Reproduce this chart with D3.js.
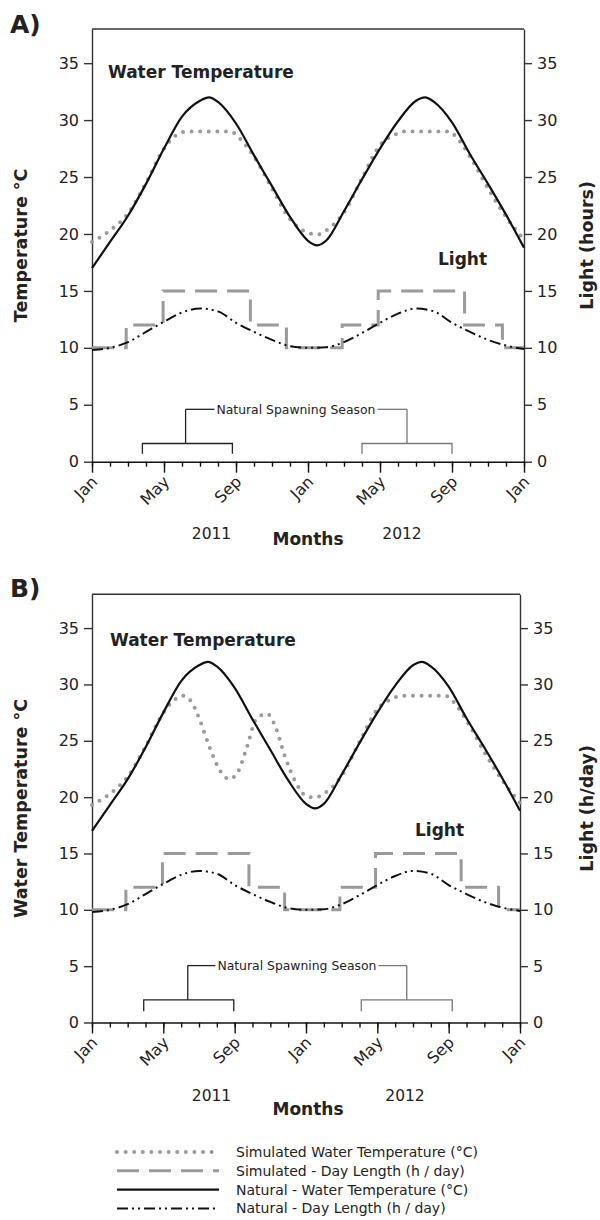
<!DOCTYPE html>
<html>
<head>
	<meta charset="utf-8">
	<title>Water temperature and light</title>
	<script src="https://d3js.org/d3.v7.min.js"></script>
	<style>
		body { margin: 0; background: #fff; }
		svg { font-family: "DejaVu Sans", sans-serif; }
		.axis text { font-family: "DejaVu Sans", sans-serif; font-size: 16px; fill: #222; }
		.axis path, .axis line { stroke: #333; stroke-width: 1.4; }
		.axis--x path, .axis--x line { stroke: #111; }
		.axis--x .month { font-size: 16px; }
		.title { font-weight: bold; fill: #222; }
	</style>
</head>
<body>
<svg width="600" height="1220"></svg>
<script>

// month index: 0 = Jan 2011, 12 = Jan 2012, 24 = Jan 2013
var yTicks = [0, 5, 10, 15, 20, 25, 30, 35];
var majorMonths = [0, 4, 8, 12, 16, 20, 24];
var monthLabels = ["Jan", "May", "Sep", "Jan", "May", "Sep", "Jan"];
var years = ["2011", "2012"];

var natTempMonths = [0, 1, 2, 3, 4, 5, 6, 6.5, 7, 8, 9, 10, 11, 12, 12.5, 13, 14, 15, 16, 17, 18, 18.5, 19, 20, 21, 22, 23, 24];
var natTemp = [17.0, 19.3, 21.6, 24.4, 27.5, 30.3, 31.7, 32.0, 31.6, 29.7, 26.9, 24.2, 21.5, 19.4, 19.0, 19.4, 22.0, 24.8, 27.5, 29.9, 31.7, 32.0, 31.6, 29.8, 27.0, 24.4, 21.7, 18.8];

var simTempMonthsA = [0, 1, 2, 3, 4, 4.7, 5.3, 7.7, 8.2, 9, 10, 11, 12, 12.5, 13, 14, 15, 16, 16.8, 17.3, 19.8, 20.3, 21, 22, 23, 24];
var simTempA = [19.3, 20.3, 21.8, 24.5, 27.5, 28.7, 29.0, 29.0, 28.4, 26.8, 24.0, 21.3, 20.1, 19.95, 20.3, 21.9, 24.9, 27.8, 28.7, 29.0, 29.0, 28.4, 26.8, 24.0, 21.5, 19.5];

var simTempMonthsB = [0, 1, 2, 3, 4, 4.6, 5.1, 5.6, 6.1, 6.6, 7.2, 7.7, 8.2, 8.7, 9.2, 9.8, 10.3, 10.8, 11.4, 12, 12.5, 13, 14, 15, 16, 16.8, 17.3, 19.8, 20.3, 21, 22, 23, 24];
var simTempB = [19.3, 20.3, 21.8, 24.5, 27.5, 28.6, 29.0, 28.4, 26.6, 24.4, 22.3, 21.6, 22.3, 24.5, 26.9, 27.4, 26.2, 23.7, 21.4, 20.1, 19.95, 20.3, 21.9, 24.9, 27.8, 28.7, 29.0, 29.0, 28.4, 26.8, 24.0, 21.5, 19.5];

var simLightMonths = [0, 1.9, 3.95, 8.8, 10.8, 13.9, 15.9, 20.7, 22.8, 24];
var simLight = [10, 12, 15, 12, 10, 12, 15, 12, 10, 10];

var natLightMonths = d3.range(0, 25);
var natLight = [9.8, 10.0, 10.5, 11.4, 12.3, 13.1, 13.45, 13.2, 12.2, 11.4, 10.7, 10.15, 10.0, 10.05, 10.5, 11.3, 12.2, 13.0, 13.45, 13.2, 12.2, 11.4, 10.7, 10.2, 9.9];

// spawning season brackets: [start, end, stem] months
var spawnA = { left: [2.8, 7.8, 5.2], right: [15.0, 20.0, 17.5], tip: 0.7, bar: 1.6, link: 4.6, textAt: 11.33 };
var spawnB = { left: [2.9, 7.95, 5.37], right: [15.1, 20.2, 17.65], tip: 1.0, bar: 2.0, link: 5.05, textAt: 11.49 };

var legendItems = [
	"Simulated Water Temperature (°C)",
	"Simulated - Day Length (h / day)",
	"Natural - Water Temperature (°C)",
	"Natural - Day Length (h / day)"
];

var styles = {
	simTemp: { stroke: "#9a9a9a", width: 4, dash: "0,8.6", cap: "round" },
	simLight: { stroke: "#9a9a9a", width: 3, dash: "22,10", cap: "butt" },
	natTemp: { stroke: "#111", width: 2.2, dash: null, cap: "butt" },
	natLight: { stroke: "#111", width: 2, dash: "11,4,2,4,2,4", cap: "butt" }
};

var panels = [
	{ tag: "A)", tagY: 33, top: 29, bottom: 461.7, left: 92, right: 524,
	  yTitle: "Temperature °C", y2Title: "Light (hours)",
	  simMonths: simTempMonthsA, sim: simTempA, spawn: spawnA,
	  wt: [108, 78], light: [438, 265], yearY: 539, yearX: [211.5, 402], monthsY: 545 },
	{ tag: "B)", tagY: 597, top: 594.3, bottom: 1022.5, left: 92, right: 520,
	  yTitle: "Water Temperature °C", y2Title: "Light (h/day)",
	  simMonths: simTempMonthsB, sim: simTempB, spawn: spawnB,
	  wt: [110, 646], light: [415, 836], yearY: 1101, yearX: [211.5, 405], monthsY: 1115 }
];

var svg = d3.select("svg");

function styled(sel, s) {
	sel.attr("fill", "none")
		.attr("stroke", s.stroke)
		.attr("stroke-width", s.width)
		.attr("stroke-linecap", s.cap)
		.attr("stroke-dasharray", s.dash);
	return sel;
}

function zip(xs, ys) {
	return xs.map(function(m, i) { return [m, ys[i]]; });
}

panels.forEach(function(p) {
	var x = d3.scaleLinear().domain([0, 24]).range([p.left, p.right]);
	var y = d3.scaleLinear().domain([0, 38]).range([p.bottom, p.top]);
	var g = svg.append("g");

	g.append("text").attr("class", "title")
		.attr("x", 10).attr("y", p.tagY)
		.style("font-size", "25px").text(p.tag);

	// frame top
	g.append("line")
		.attr("x1", p.left).attr("x2", p.right)
		.attr("y1", p.top).attr("y2", p.top)
		.attr("stroke", "#333").attr("stroke-width", 1.4);

	g.append("g").attr("class", "axis")
		.attr("transform", "translate(" + p.left + ",0)")
		.call(d3.axisLeft(y).tickValues(yTicks).tickSize(8).tickSizeOuter(0).tickPadding(5));

	g.append("g").attr("class", "axis")
		.attr("transform", "translate(" + p.right + ",0)")
		.call(d3.axisRight(y).tickValues(yTicks).tickSize(8).tickSizeOuter(0).tickPadding(5));

	// minor month ticks
	g.append("g").attr("class", "axis axis--x")
		.attr("transform", "translate(0," + p.bottom + ")")
		.call(d3.axisBottom(x).tickValues(d3.range(0, 25)).tickSize(5).tickSizeOuter(0).tickFormat(""));

	var xa = g.append("g").attr("class", "axis axis--x")
		.attr("transform", "translate(0," + p.bottom + ")")
		.call(d3.axisBottom(x).tickValues(majorMonths).tickSize(11).tickSizeOuter(0)
			.tickFormat(function(d, i) { return monthLabels[i]; }));
	xa.select(".domain").remove();
	xa.selectAll("text")
		.attr("class", "month")
		.attr("x", 0).attr("y", 0).attr("dy", 0)
		.attr("text-anchor", "end")
		.attr("transform", "translate(6,21) rotate(-45)");

	// axis titles
	g.append("text").attr("class", "title")
		.attr("transform", "translate(27," + (p.top + p.bottom) / 2 + ") rotate(-90)")
		.attr("text-anchor", "middle").style("font-size", "17.5px").text(p.yTitle);
	g.append("text").attr("class", "title")
		.attr("transform", "translate(593," + (p.top + p.bottom) / 2 + ") rotate(-90)")
		.attr("text-anchor", "middle").style("font-size", "17.5px").text(p.y2Title);

	g.append("text").attr("class", "title").attr("x", p.wt[0]).attr("y", p.wt[1])
		.style("font-size", "17px").text("Water Temperature");
	g.append("text").attr("class", "title").attr("x", p.light[0]).attr("y", p.light[1])
		.style("font-size", "17px").text("Light");

	years.forEach(function(yr, i) {
		g.append("text").attr("x", p.yearX[i]).attr("y", p.yearY)
			.attr("text-anchor", "middle").style("font-size", "15.5px").attr("fill", "#222").text(yr);
	});
	g.append("text").attr("class", "title").attr("x", 308).attr("y", p.monthsY)
		.attr("text-anchor", "middle").style("font-size", "17px").text("Months");

	// spawning season annotation
	var s = p.spawn;
	var ann = g.append("g").attr("fill", "none").attr("stroke-width", 1.3);
	[["left", "#222"], ["right", "#777"]].forEach(function(side) {
		var b = s[side[0]];
		ann.append("path").attr("stroke", side[1])
			.attr("d", d3.line()([[x(b[0]), y(s.tip)], [x(b[0]), y(s.bar)], [x(b[1]), y(s.bar)], [x(b[1]), y(s.tip)]]));
		ann.append("line").attr("stroke", side[1])
			.attr("x1", x(b[2])).attr("x2", x(b[2]))
			.attr("y1", y(s.bar)).attr("y2", y(s.link));
	});
	var label = g.append("text")
		.attr("x", x(s.textAt)).attr("y", y(s.link)).attr("dy", "0.35em")
		.attr("text-anchor", "middle").style("font-size", "12.4px").attr("fill", "#222")
		.text("Natural Spawning Season");
	var bb = label.node().getBBox();
	ann.append("line").attr("stroke", "#222")
		.attr("x1", x(s.left[2])).attr("x2", bb.x - 2)
		.attr("y1", y(s.link)).attr("y2", y(s.link));
	ann.append("line").attr("stroke", "#777")
		.attr("x1", bb.x + bb.width + 2).attr("x2", x(s.right[2]))
		.attr("y1", y(s.link)).attr("y2", y(s.link));

	// series
	var curve = d3.line().x(function(d) { return x(d[0]); }).y(function(d) { return y(d[1]); });
	styled(g.append("path"), styles.simLight)
		.attr("d", curve.curve(d3.curveStepAfter)(zip(simLightMonths, simLight)));
	styled(g.append("path"), styles.natLight)
		.attr("d", curve.curve(d3.curveMonotoneX)(zip(natLightMonths, natLight)));
	styled(g.append("path"), styles.simTemp)
		.attr("d", curve.curve(d3.curveMonotoneX)(zip(p.simMonths, p.sim)));
	styled(g.append("path"), styles.natTemp)
		.attr("d", curve.curve(d3.curveMonotoneX)(zip(natTempMonths, natTemp)));
});

// legend
var keys = ["simTemp", "simLight", "natTemp", "natLight"];
var legend = svg.append("g").attr("transform", "translate(117,1152)");
keys.forEach(function(k, i) {
	var row = legend.append("g").attr("transform", "translate(0," + i * 18.8 + ")");
	styled(row.append("line"), styles[k])
		.attr("x1", 0).attr("x2", 102).attr("y1", 0).attr("y2", 0);
	row.append("text").attr("x", 119).attr("y", 0).attr("dy", "0.35em")
		.style("font-size", "14px").attr("fill", "#222").text(legendItems[i]);
});

</script>
</body>
</html>
